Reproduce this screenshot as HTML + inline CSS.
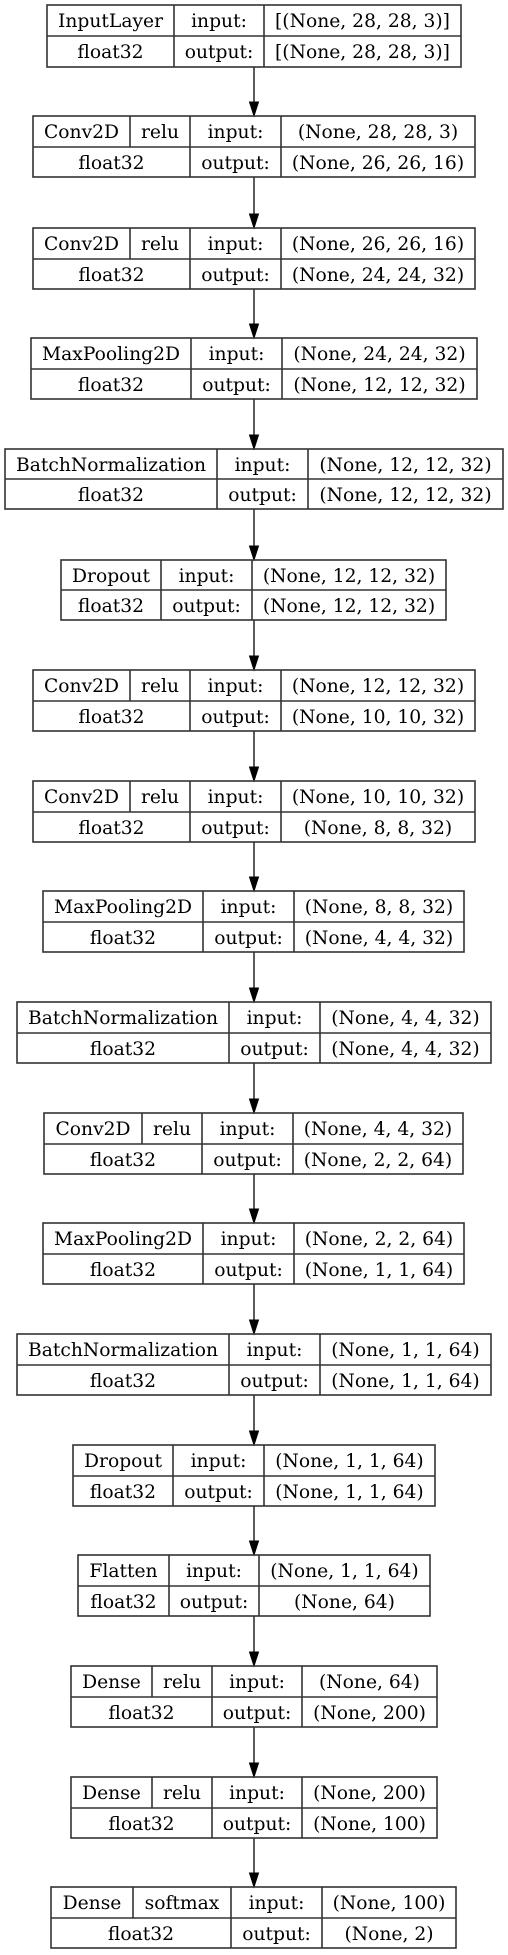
<!DOCTYPE html>
<html><head><meta charset="utf-8"><style>
html,body{margin:0;padding:0;background:#fff;}
svg{display:block;}
text{font-family:"DejaVu Serif","Liberation Serif",serif;font-size:18.7px;fill:#000;text-anchor:middle;}
rect,line{stroke:#333;stroke-width:1.6;fill:none;}
polygon{fill:#000;stroke:#000;stroke-width:1;}
.a{stroke:#333;stroke-width:1.6;}
</style></head><body>
<svg width="508" height="1955" viewBox="0 0 508 1955" xmlns="http://www.w3.org/2000/svg">
<rect x="0" y="0" width="508" height="1955" style="fill:#fff;stroke:none"/>

<!-- 1 InputLayer -->
<rect x="47" y="5" width="414" height="62"/><line x1="47" y1="36" x2="461" y2="36"/>
<line x1="174" y1="5" x2="174" y2="67"/><line x1="264" y1="5" x2="264" y2="67"/>
<text x="110.5" y="27">InputLayer</text><text x="219" y="27">input:</text><text x="362.5" y="27">[(None, 28, 28, 3)]</text>
<text x="110.5" y="58">float32</text><text x="219" y="58">output:</text><text x="362.5" y="58">[(None, 28, 28, 3)]</text>
<line class="a" x1="254" y1="67" x2="254" y2="102"/><polygon points="249.5,102 258.5,102 254,116"/>

<!-- 2 Conv2D -->
<rect x="33" y="116" width="442" height="61"/><line x1="33" y1="147" x2="475" y2="147"/>
<line x1="130" y1="116" x2="130" y2="147"/><line x1="190" y1="116" x2="190" y2="177"/><line x1="281" y1="116" x2="281" y2="177"/>
<text x="81.5" y="138">Conv2D</text><text x="160" y="138">relu</text><text x="235.5" y="138">input:</text><text x="378" y="138">(None, 28, 28, 3)</text>
<text x="111.5" y="169">float32</text><text x="235.5" y="169">output:</text><text x="378" y="169">(None, 26, 26, 16)</text>
<line class="a" x1="254" y1="177" x2="254" y2="214"/><polygon points="249.5,214 258.5,214 254,228"/>

<!-- 3 Conv2D -->
<rect x="33" y="228" width="442" height="61"/><line x1="33" y1="259" x2="475" y2="259"/>
<line x1="130" y1="228" x2="130" y2="259"/><line x1="190" y1="228" x2="190" y2="289"/><line x1="281" y1="228" x2="281" y2="289"/>
<text x="81.5" y="250">Conv2D</text><text x="160" y="250">relu</text><text x="235.5" y="250">input:</text><text x="378" y="250">(None, 26, 26, 16)</text>
<text x="111.5" y="281">float32</text><text x="235.5" y="281">output:</text><text x="378" y="281">(None, 24, 24, 32)</text>
<line class="a" x1="254" y1="289" x2="254" y2="324"/><polygon points="249.5,324 258.5,324 254,338"/>

<!-- 4 MaxPooling2D -->
<rect x="31" y="338" width="446" height="61"/><line x1="31" y1="369" x2="477" y2="369"/>
<line x1="191" y1="338" x2="191" y2="399"/><line x1="282" y1="338" x2="282" y2="399"/>
<text x="111" y="360">MaxPooling2D</text><text x="236.5" y="360">input:</text><text x="379.5" y="360">(None, 24, 24, 32)</text>
<text x="111" y="391">float32</text><text x="236.5" y="391">output:</text><text x="379.5" y="391">(None, 12, 12, 32)</text>
<line class="a" x1="254" y1="399" x2="254" y2="435"/><polygon points="249.5,435 258.5,435 254,449"/>

<!-- 5 BatchNormalization -->
<rect x="5" y="449" width="498" height="60"/><line x1="5" y1="479" x2="503" y2="479"/>
<line x1="217" y1="449" x2="217" y2="509"/><line x1="308" y1="449" x2="308" y2="509"/>
<text x="111" y="471">BatchNormalization</text><text x="262.5" y="471">input:</text><text x="405.5" y="471">(None, 12, 12, 32)</text>
<text x="111" y="501">float32</text><text x="262.5" y="501">output:</text><text x="405.5" y="501">(None, 12, 12, 32)</text>
<line class="a" x1="254" y1="509" x2="254" y2="546"/><polygon points="249.5,546 258.5,546 254,560"/>

<!-- 6 Dropout -->
<rect x="61" y="560" width="385" height="60"/><line x1="61" y1="590" x2="446" y2="590"/>
<line x1="161" y1="560" x2="161" y2="620"/><line x1="252" y1="560" x2="252" y2="620"/>
<text x="111" y="582">Dropout</text><text x="206.5" y="582">input:</text><text x="349" y="582">(None, 12, 12, 32)</text>
<text x="111" y="612">float32</text><text x="206.5" y="612">output:</text><text x="349" y="612">(None, 12, 12, 32)</text>
<line class="a" x1="254" y1="620" x2="254" y2="656"/><polygon points="249.5,656 258.5,656 254,670"/>

<!-- 7 Conv2D -->
<rect x="33" y="670" width="442" height="61"/><line x1="33" y1="701" x2="475" y2="701"/>
<line x1="130" y1="670" x2="130" y2="701"/><line x1="190" y1="670" x2="190" y2="731"/><line x1="281" y1="670" x2="281" y2="731"/>
<text x="81.5" y="692">Conv2D</text><text x="160" y="692">relu</text><text x="235.5" y="692">input:</text><text x="378" y="692">(None, 12, 12, 32)</text>
<text x="111.5" y="723">float32</text><text x="235.5" y="723">output:</text><text x="378" y="723">(None, 10, 10, 32)</text>
<line class="a" x1="254" y1="731" x2="254" y2="767"/><polygon points="249.5,767 258.5,767 254,781"/>

<!-- 8 Conv2D -->
<rect x="33" y="781" width="442" height="61"/><line x1="33" y1="812" x2="475" y2="812"/>
<line x1="130" y1="781" x2="130" y2="812"/><line x1="190" y1="781" x2="190" y2="842"/><line x1="281" y1="781" x2="281" y2="842"/>
<text x="81.5" y="803">Conv2D</text><text x="160" y="803">relu</text><text x="235.5" y="803">input:</text><text x="378" y="803">(None, 10, 10, 32)</text>
<text x="111.5" y="834">float32</text><text x="235.5" y="834">output:</text><text x="378" y="834">(None, 8, 8, 32)</text>
<line class="a" x1="254" y1="842" x2="254" y2="877"/><polygon points="249.5,877 258.5,877 254,891"/>

<!-- 9 MaxPooling2D -->
<rect x="43" y="891" width="421" height="61"/><line x1="43" y1="922" x2="464" y2="922"/>
<line x1="203" y1="891" x2="203" y2="952"/><line x1="294" y1="891" x2="294" y2="952"/>
<text x="123" y="913">MaxPooling2D</text><text x="248.5" y="913">input:</text><text x="379" y="913">(None, 8, 8, 32)</text>
<text x="123" y="944">float32</text><text x="248.5" y="944">output:</text><text x="379" y="944">(None, 4, 4, 32)</text>
<line class="a" x1="254" y1="952" x2="254" y2="988"/><polygon points="249.5,988 258.5,988 254,1002"/>

<!-- 10 BatchNormalization -->
<rect x="17" y="1002" width="474" height="61"/><line x1="17" y1="1033" x2="491" y2="1033"/>
<line x1="229" y1="1002" x2="229" y2="1063"/><line x1="320" y1="1002" x2="320" y2="1063"/>
<text x="123" y="1024">BatchNormalization</text><text x="274.5" y="1024">input:</text><text x="405.5" y="1024">(None, 4, 4, 32)</text>
<text x="123" y="1055">float32</text><text x="274.5" y="1055">output:</text><text x="405.5" y="1055">(None, 4, 4, 32)</text>
<line class="a" x1="254" y1="1063" x2="254" y2="1099"/><polygon points="249.5,1099 258.5,1099 254,1113"/>

<!-- 11 Conv2D -->
<rect x="44" y="1113" width="419" height="61"/><line x1="44" y1="1144" x2="463" y2="1144"/>
<line x1="142" y1="1113" x2="142" y2="1144"/><line x1="202" y1="1113" x2="202" y2="1174"/><line x1="293" y1="1113" x2="293" y2="1174"/>
<text x="93" y="1135">Conv2D</text><text x="172" y="1135">relu</text><text x="247.5" y="1135">input:</text><text x="378" y="1135">(None, 4, 4, 32)</text>
<text x="123" y="1166">float32</text><text x="247.5" y="1166">output:</text><text x="378" y="1166">(None, 2, 2, 64)</text>
<line class="a" x1="254" y1="1174" x2="254" y2="1209"/><polygon points="249.5,1209 258.5,1209 254,1223"/>

<!-- 12 MaxPooling2D -->
<rect x="43" y="1223" width="421" height="61"/><line x1="43" y1="1254" x2="464" y2="1254"/>
<line x1="203" y1="1223" x2="203" y2="1284"/><line x1="294" y1="1223" x2="294" y2="1284"/>
<text x="123" y="1245">MaxPooling2D</text><text x="248.5" y="1245">input:</text><text x="379" y="1245">(None, 2, 2, 64)</text>
<text x="123" y="1276">float32</text><text x="248.5" y="1276">output:</text><text x="379" y="1276">(None, 1, 1, 64)</text>
<line class="a" x1="254" y1="1284" x2="254" y2="1320"/><polygon points="249.5,1320 258.5,1320 254,1334"/>

<!-- 13 BatchNormalization -->
<rect x="17" y="1334" width="474" height="61"/><line x1="17" y1="1365" x2="491" y2="1365"/>
<line x1="229" y1="1334" x2="229" y2="1395"/><line x1="320" y1="1334" x2="320" y2="1395"/>
<text x="123" y="1356">BatchNormalization</text><text x="274.5" y="1356">input:</text><text x="405.5" y="1356">(None, 1, 1, 64)</text>
<text x="123" y="1387">float32</text><text x="274.5" y="1387">output:</text><text x="405.5" y="1387">(None, 1, 1, 64)</text>
<line class="a" x1="254" y1="1395" x2="254" y2="1431"/><polygon points="249.5,1431 258.5,1431 254,1445"/>

<!-- 14 Dropout -->
<rect x="73" y="1445" width="362" height="61"/><line x1="73" y1="1476" x2="435" y2="1476"/>
<line x1="173" y1="1445" x2="173" y2="1506"/><line x1="264" y1="1445" x2="264" y2="1506"/>
<text x="123" y="1467">Dropout</text><text x="218.5" y="1467">input:</text><text x="349.5" y="1467">(None, 1, 1, 64)</text>
<text x="123" y="1498">float32</text><text x="218.5" y="1498">output:</text><text x="349.5" y="1498">(None, 1, 1, 64)</text>
<line class="a" x1="254" y1="1506" x2="254" y2="1541"/><polygon points="249.5,1541 258.5,1541 254,1555"/>

<!-- 15 Flatten -->
<rect x="78" y="1555" width="352" height="61"/><line x1="78" y1="1586" x2="430" y2="1586"/>
<line x1="169" y1="1555" x2="169" y2="1616"/><line x1="259" y1="1555" x2="259" y2="1616"/>
<text x="123.5" y="1577">Flatten</text><text x="214" y="1577">input:</text><text x="344.5" y="1577">(None, 1, 1, 64)</text>
<text x="123.5" y="1608">float32</text><text x="214" y="1608">output:</text><text x="344.5" y="1608">(None, 64)</text>
<line class="a" x1="254" y1="1616" x2="254" y2="1652"/><polygon points="249.5,1652 258.5,1652 254,1666"/>

<!-- 16 Dense -->
<rect x="71" y="1666" width="366" height="61"/><line x1="71" y1="1697" x2="437" y2="1697"/>
<line x1="152" y1="1666" x2="152" y2="1697"/><line x1="212" y1="1666" x2="212" y2="1727"/><line x1="302" y1="1666" x2="302" y2="1727"/>
<text x="111.5" y="1688">Dense</text><text x="182" y="1688">relu</text><text x="257" y="1688">input:</text><text x="369.5" y="1688">(None, 64)</text>
<text x="141.5" y="1719">float32</text><text x="257" y="1719">output:</text><text x="369.5" y="1719">(None, 200)</text>
<line class="a" x1="254" y1="1727" x2="254" y2="1763"/><polygon points="249.5,1763 258.5,1763 254,1777"/>

<!-- 17 Dense -->
<rect x="71" y="1777" width="366" height="61"/><line x1="71" y1="1808" x2="437" y2="1808"/>
<line x1="152" y1="1777" x2="152" y2="1808"/><line x1="212" y1="1777" x2="212" y2="1838"/><line x1="302" y1="1777" x2="302" y2="1838"/>
<text x="111.5" y="1799">Dense</text><text x="182" y="1799">relu</text><text x="257" y="1799">input:</text><text x="369.5" y="1799">(None, 200)</text>
<text x="141.5" y="1830">float32</text><text x="257" y="1830">output:</text><text x="369.5" y="1830">(None, 100)</text>
<line class="a" x1="254" y1="1838" x2="254" y2="1873"/><polygon points="249.5,1873 258.5,1873 254,1887"/>

<!-- 18 Dense softmax -->
<rect x="51" y="1887" width="405" height="61"/><line x1="51" y1="1918" x2="456" y2="1918"/>
<line x1="133" y1="1887" x2="133" y2="1918"/><line x1="231" y1="1887" x2="231" y2="1948"/><line x1="322" y1="1887" x2="322" y2="1948"/>
<text x="92" y="1909">Dense</text><text x="182" y="1909">softmax</text><text x="276.5" y="1909">input:</text><text x="389" y="1909">(None, 100)</text>
<text x="141" y="1940">float32</text><text x="276.5" y="1940">output:</text><text x="389" y="1940">(None, 2)</text>
</svg>
</body></html>
